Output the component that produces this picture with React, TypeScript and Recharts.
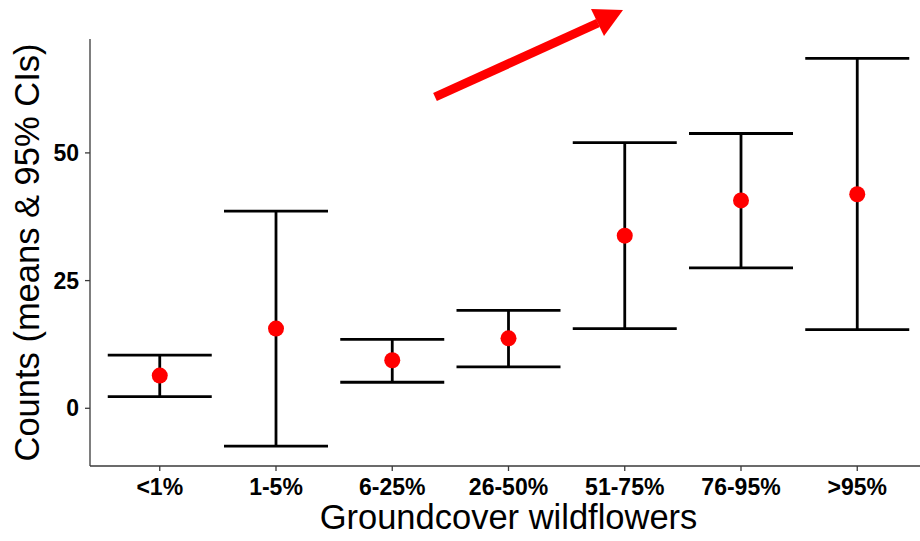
import { ComposedChart, ErrorBar, Scatter, XAxis, YAxis } from "recharts";

const categories = ["<1%", "1-5%", "6-25%", "26-50%", "51-75%", "76-95%", ">95%"];
const means = [6.4, 15.6, 9.4, 13.7, 33.8, 40.7, 41.9];
const lowerCI = [2.3, -7.4, 5.1, 8.1, 15.6, 27.5, 15.4];
const upperCI = [10.4, 38.6, 13.5, 19.15, 52.0, 53.8, 68.5];
const yTicks = [0, 25, 50];

const font = "'Liberation Sans', Arial, sans-serif";
const axisColor = "#3a3a3a";

// ErrorBar wants [minus, plus] offsets from the mean
const chartData = categories.map((cat, i) => ({
	idx: i + 1,
	cat,
	mean: means[i],
	ci: [means[i] - lowerCI[i], upperCI[i] - means[i]],
}));

function Dot(props: { cx?: number; cy?: number }) {
	const { cx, cy } = props;
	if (cx == null || cy == null) return null;
	return <circle cx={cx} cy={cy} r={8} fill="#ff0000" />;
}

function TrendArrow() {
	// decorative annotation arrow above the plot
	return (
		<svg
			width={920}
			height={541}
			style={{ position: "absolute", left: 0, top: 0, pointerEvents: "none" }}
		>
			<line x1={435} y1={97} x2={598} y2={23} stroke="#ff0000" strokeWidth={9} />
			<polygon points="623,10 591,9 604,36" fill="#ff0000" />
		</svg>
	);
}

export default function App() {
	return (
		<div
			style={{
				position: "absolute",
				left: 0,
				top: 0,
				width: 920,
				height: 541,
				overflow: "hidden",
				background: "#fff",
				fontFamily: font,
			}}
		>
			<ComposedChart
				width={928}
				height={541}
				data={chartData}
				margin={{ top: 39, right: 1, left: 0, bottom: 0 }}
			>
				<XAxis
					type="number"
					dataKey="idx"
					domain={[0.4, 7.6]}
					ticks={[1, 2, 3, 4, 5, 6, 7]}
					tickFormatter={(v: number) => categories[v - 1] ?? ""}
					height={75}
					stroke={axisColor}
					strokeWidth={1.3}
					tickSize={5}
					tickMargin={8}
					tick={{ fill: "#000", fontSize: 23, fontWeight: "bold", fontFamily: font }}
					label={{
						value: "Groundcover wildflowers",
						position: "insideBottom",
						offset: 12,
						style: { fontSize: 34.5, fill: "#000", fontFamily: font },
					}}
				/>
				<YAxis
					type="number"
					domain={[-11.3, 72.3]}
					ticks={yTicks}
					width={90}
					stroke={axisColor}
					strokeWidth={1.3}
					tickSize={5}
					tickMargin={6}
					tick={{ fill: "#000", fontSize: 23, fontWeight: "bold", fontFamily: font }}
					label={{
						value: "Counts (means & 95% CIs)",
						angle: -90,
						position: "insideLeft",
						offset: 27,
						style: { textAnchor: "middle", fontSize: 34.5, fill: "#000", fontFamily: font },
					}}
				/>
				<Scatter dataKey="mean" shape={<Dot />} isAnimationActive={false}>
					<ErrorBar
						dataKey="ci"
						direction="y"
						width={52}
						stroke="#000"
						strokeWidth={2.8}
						isAnimationActive={false}
					/>
				</Scatter>
			</ComposedChart>
			<TrendArrow />
		</div>
	);
}
